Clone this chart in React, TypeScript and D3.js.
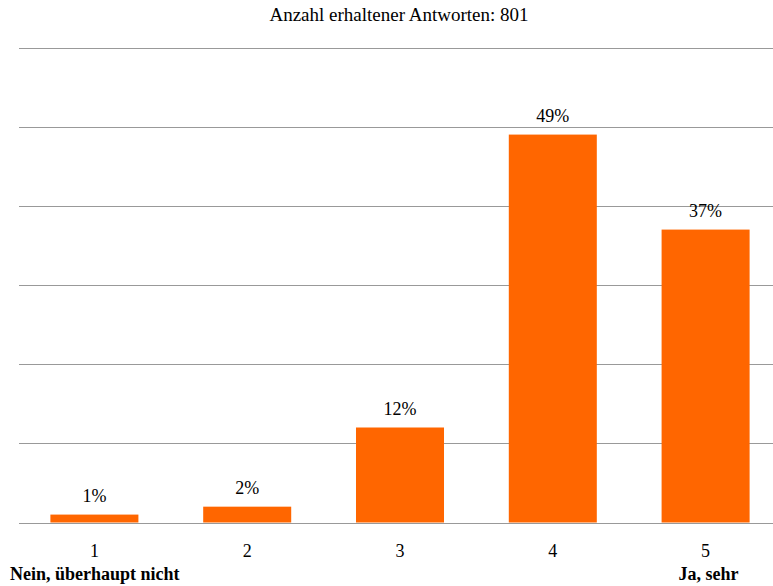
import React from "react";
import * as d3 from "d3";

const categories = ["1", "2", "3", "4", "5"];
const values = [1, 2, 12, 49, 37];
const yTicks = [0, 10, 20, 30, 40, 50, 60];
const title = "Anzahl erhaltener Antworten: 801";
const leftAnchor = "Nein, überhaupt nicht";
const rightAnchor = "Ja, sehr";

const W = 773;
const H = 586;
const FONT = "'Liberation Serif', 'DejaVu Serif', serif";

export default function App() {
  const x = d3
    .scaleBand<string>()
    .domain(categories)
    .range([18, 782])
    .paddingInner(0.424)
    .paddingOuter(0.212);
  const y = d3.scaleLinear().domain([0, 60]).range([522.5, 47.5]);

  return (
    <svg
      width={W}
      height={H}
      style={{ position: "absolute", left: 0, top: 0, background: "#fff", fontFamily: FONT }}
    >
      <text x={399} y={21} textAnchor="middle" fontSize={19} fill="#000">
        {title}
      </text>
      {yTicks.map((t) => (
        <line
          key={t}
          x1={19}
          x2={W}
          y1={Math.round(y(t)) + 0.5}
          y2={Math.round(y(t)) + 0.5}
          stroke="#999"
          strokeWidth={1}
        />
      ))}
      {categories.map((c, i) => (
        <g key={c}>
          <rect
            x={x(c)}
            y={y(values[i])}
            width={x.bandwidth()}
            height={y(0) - y(values[i])}
            fill="#ff6600"
          />
          <text
            x={(x(c) as number) + x.bandwidth() / 2}
            y={y(values[i]) - 13}
            textAnchor="middle"
            fontSize={18}
            fill="#000"
          >
            {values[i]}%
          </text>
          <text
            x={(x(c) as number) + x.bandwidth() / 2}
            y={557}
            textAnchor="middle"
            fontSize={18}
            fill="#000"
          >
            {c}
          </text>
        </g>
      ))}
      <text x={10} y={580} fontSize={18} fontWeight="bold" fill="#000">
        {leftAnchor}
      </text>
      <text
        x={(x("5") as number) + x.bandwidth() / 2 + 3}
        y={580}
        textAnchor="middle"
        fontSize={18}
        fontWeight="bold"
        fill="#000"
      >
        {rightAnchor}
      </text>
    </svg>
  );
}
